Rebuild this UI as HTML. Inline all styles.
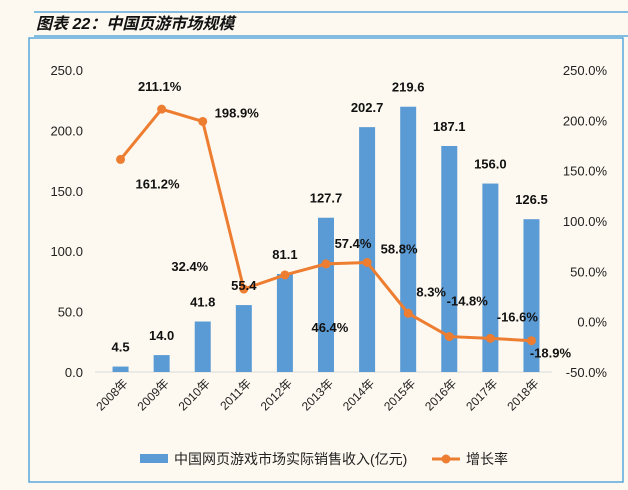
<!DOCTYPE html>
<html><head><meta charset="utf-8"><style>
body{margin:0;background:#fdf9f0;width:628px;height:485px;overflow:hidden;font-family:"Liberation Sans","Noto Sans CJK SC",sans-serif}
</style></head><body>
<svg width="628" height="485" xmlns="http://www.w3.org/2000/svg">
<line x1="34" y1="12" x2="628" y2="12" stroke="#5aa7dc" stroke-width="1.5"/>
<text x="36" y="29" font-size="16" font-style="italic" font-weight="bold" fill="#111" font-family="Liberation Sans,Noto Sans CJK SC,sans-serif">图表 22：中国页游市场规模</text>
<line x1="34" y1="36" x2="628" y2="36" stroke="#5aa7dc" stroke-width="1.5"/>
<rect x="29" y="38" width="594" height="444" fill="none" stroke="#5aa7dc" stroke-width="1.5"/>
<g id="plot"></g>
</svg>
<script>
const years=["2008年","2009年","2010年","2011年","2012年","2013年","2014年","2015年","2016年","2017年","2018年"];
const revenue=[4.5,14.0,41.8,55.4,81.1,127.7,202.7,219.6,187.1,156.0,126.5];
const growth=[161.2,211.1,198.9,32.4,46.4,57.4,58.8,8.3,-14.8,-16.6,-18.9];
const leftTicks=[0,50,100,150,200,250];
const rightTicks=[-50,0,50,100,150,200,250];
const NS="http://www.w3.org/2000/svg";
const g=document.getElementById('plot');
const x0=100,x1=552,yb=372,yt=70;
const yL=v=>yb-(v/250)*(yb-yt);
const yR=v=>yb-((v+50)/300)*(yb-yt);
const step=(x1-x0)/years.length;
const xc=i=>x0+step*(i+0.5);
function el(t,a,txt){const e=document.createElementNS(NS,t);for(const k in a)e.setAttribute(k,a[k]);if(txt!=null)e.textContent=txt;g.appendChild(e);return e;}
leftTicks.forEach(v=>{const t=el('text',{x:83,y:yL(v)+5,'text-anchor':'end','font-size':13,fill:'#222'},v.toFixed(1));

});
rightTicks.forEach(v=>{const t=el('text',{x:607,y:yR(v)+5,'text-anchor':'end','font-size':13,fill:'#222'},v.toFixed(1)+'%');

});
const ax=el('line',{x1:x0-5,y1:yb,x2:x1,y2:yb,stroke:'#d9d9d9','stroke-width':1});


revenue.forEach((v,i)=>{
const r=el('rect',{x:xc(i)-8,y:yL(v),width:16,height:yb-yL(v),fill:'#5b9bd5'});


const xl=el('text',{x:0,y:0,'text-anchor':'end','font-size':12,fill:'#222',transform:`translate(${xc(i)+8},${yb+12}) rotate(-45)`},years[i]);


});
const pts=growth.map((v,i)=>xc(i)+','+yR(v)).join(' ');
const pl=el('polyline',{points:pts,fill:'none',stroke:'#ed7d31','stroke-width':3});


const off=[[37,24],[-2,-23],[34,-9],[-54,-23],[45,52],[27,-21],[32,-14],[23,-22],[18,-36],[27,-22],[19,12]];
growth.forEach((v,i)=>{
const c=el('circle',{cx:xc(i),cy:yR(v),r:4.5,fill:'#ed7d31'});


const t=el('text',{x:xc(i)+off[i][0],y:yR(v)+off[i][1]+5,'text-anchor':'middle','font-size':13,'font-weight':'bold',fill:'#111'},v.toFixed(1)+'%');


});
revenue.forEach((v,i)=>{
const t=el('text',{x:xc(i),y:yL(v)-15,'text-anchor':'middle','font-size':13,'font-weight':'bold',fill:'#111'},v.toFixed(1));


});
const lr=el('rect',{x:140,y:454,width:28,height:9,fill:'#5b9bd5'});


const lt=el('text',{x:174,y:464,'font-size':14,fill:'#222'},'中国网页游戏市场实际销售收入(亿元)');


const ll=el('line',{x1:432,y1:459,x2:460,y2:459,stroke:'#ed7d31','stroke-width':3});


const lc=el('circle',{cx:446,cy:459,r:4.5,fill:'#ed7d31'});


const lt2=el('text',{x:466,y:464,'font-size':14,fill:'#222'},'增长率');


</script>
</body></html>
